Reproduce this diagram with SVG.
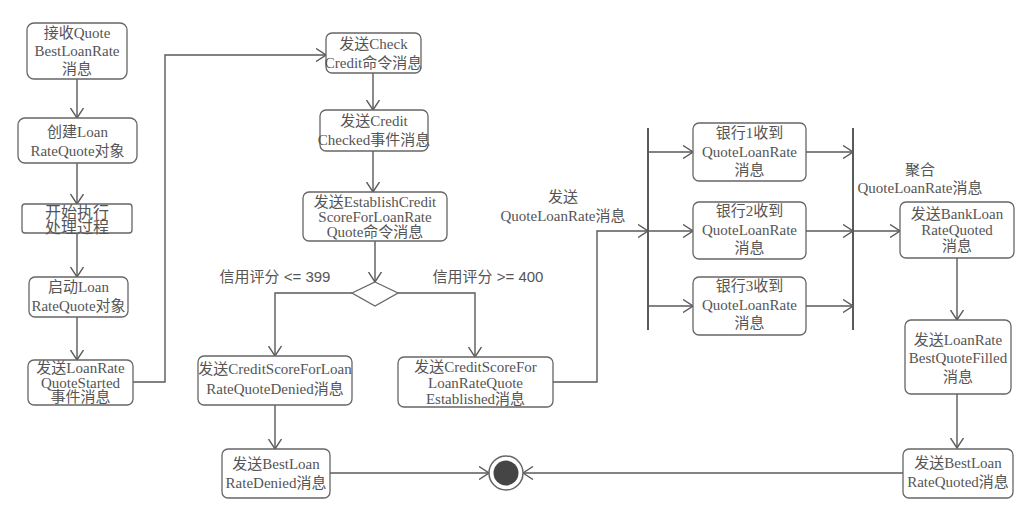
<svg xmlns="http://www.w3.org/2000/svg" width="1021" height="505" viewBox="0 0 1021 505">
  <style>
    .box { fill: #ffffff; stroke: #666666; stroke-width: 1.3; }
    .t { font-family: "Liberation Serif", "Noto Sans CJK SC", serif; font-size: 15px; fill: #555555; text-anchor: middle; dominant-baseline: central; }
    .lbl { font-family: "Liberation Sans", "Noto Sans CJK SC", sans-serif; font-size: 15px; fill: #555555; text-anchor: middle; dominant-baseline: central; }
    .edge { fill: none; stroke: #5a5a5a; stroke-width: 1.4; }
    .arr { marker-end: url(#open); }
    .bar { stroke: #5a5a5a; stroke-width: 2; }
  </style>
  <defs>
    <marker id="open" viewBox="0 0 11 14" markerWidth="11" markerHeight="14" refX="10.5" refY="7" orient="auto" markerUnits="userSpaceOnUse">
      <path d="M0.5,0.5 L10.5,7 L0.5,13.5" fill="none" stroke="#5a5a5a" stroke-width="1.4"/>
    </marker>
  </defs>

  <rect width="1021" height="505" fill="#ffffff"/>

  <!-- connectors -->
  <g id="connectors">
    <line class="edge arr" x1="77" y1="79" x2="77" y2="118"/>
    <line class="edge arr" x1="77" y1="163" x2="77" y2="204"/>
    <line class="edge arr" x1="77" y1="233" x2="77" y2="277"/>
    <line class="edge arr" x1="77" y1="317" x2="77" y2="360"/>
    <polyline class="edge arr" points="133,382 165,382 165,55 326,55"/>
    <line class="edge arr" x1="373" y1="73" x2="373" y2="110"/>
    <line class="edge arr" x1="373" y1="151" x2="373" y2="192"/>
    <line class="edge arr" x1="375" y1="241" x2="375" y2="282"/>
    <polyline class="edge arr" points="352,293 275,293 275,356"/>
    <polyline class="edge arr" points="398,293 475,293 475,357"/>
    <line class="edge arr" x1="275" y1="405" x2="275" y2="449"/>
    <line class="edge arr" x1="330" y1="473" x2="489" y2="473"/>
    <polyline class="edge arr" points="553,382 597,382 597,231 648,231"/>
    <!-- fork -->
    <line class="bar" x1="648" y1="128" x2="648" y2="330"/>
    <line class="edge arr" x1="648" y1="152" x2="693" y2="152"/>
    <line class="edge arr" x1="648" y1="231" x2="693" y2="231"/>
    <line class="edge arr" x1="648" y1="306" x2="693" y2="306"/>
    <!-- join -->
    <line class="edge arr" x1="806" y1="152" x2="853" y2="152"/>
    <line class="edge arr" x1="806" y1="231" x2="853" y2="231"/>
    <line class="edge arr" x1="806" y1="306" x2="853" y2="306"/>
    <line class="bar" x1="853" y1="128" x2="853" y2="330"/>
    <line class="edge arr" x1="853" y1="231" x2="900" y2="231"/>
    <line class="edge arr" x1="957" y1="258" x2="957" y2="320"/>
    <line class="edge arr" x1="957" y1="394" x2="957" y2="448"/>
    <line class="edge arr" x1="903" y1="473" x2="523" y2="473"/>
    <!-- edge labels -->
    <text class="lbl" x="275" y="276">信用评分 &lt;= 399</text>
    <text class="lbl" x="488" y="276">信用评分 &gt;= 400</text>
    <text class="t" x="563" y="197">发送</text>
    <text class="t" x="563" y="216">QuoteLoanRate消息</text>
    <text class="t" x="920" y="170">聚合</text>
    <text class="t" x="920" y="188">QuoteLoanRate消息</text>
  </g>

  <!-- left column -->
  <g id="receive">
    <rect class="box" x="27" y="23" width="100" height="56" rx="7"/>
    <text class="t" x="77" y="33">接收Quote</text>
    <text class="t" x="77" y="51">BestLoanRate</text>
    <text class="t" x="77" y="69">消息</text>
  </g>
  <g id="create">
    <rect class="box" x="18" y="118" width="119" height="45" rx="7"/>
    <text class="t" x="77.5" y="131.5">创建Loan</text>
    <text class="t" x="77.5" y="150.5">RateQuote对象</text>
  </g>
  <g id="begin">
    <rect class="box" x="22" y="204" width="110" height="29" rx="3"/>
    <text class="t" x="77" y="212" style="font-size:16px">开始执行</text>
    <text class="t" x="77" y="227" style="font-size:16px">处理过程</text>
  </g>
  <g id="start">
    <rect class="box" x="29" y="277" width="99" height="40" rx="6"/>
    <text class="t" x="78.5" y="287">启动Loan</text>
    <text class="t" x="78.5" y="306">RateQuote对象</text>
  </g>
  <g id="started">
    <rect class="box" x="28" y="360" width="105" height="45" rx="6"/>
    <text class="t" x="80.5" y="368">发送LoanRate</text>
    <text class="t" x="80.5" y="383">QuoteStarted</text>
    <text class="t" x="80.5" y="397">事件消息</text>
  </g>

  <!-- middle column -->
  <g id="checkCredit">
    <rect class="box" x="326" y="33" width="95" height="40" rx="6"/>
    <text class="t" x="373.5" y="44">发送Check</text>
    <text class="t" x="373.5" y="63">Credit命令消息</text>
  </g>
  <g id="creditChecked">
    <rect class="box" x="320" y="110" width="108" height="41" rx="6"/>
    <text class="t" x="374" y="121">发送Credit</text>
    <text class="t" x="374" y="140">Checked事件消息</text>
  </g>
  <g id="establish">
    <rect class="box" x="303" y="192" width="144" height="49" rx="6"/>
    <text class="t" x="375" y="202">发送EstablishCredit</text>
    <text class="t" x="375" y="217">ScoreForLoanRate</text>
    <text class="t" x="375" y="232">Quote命令消息</text>
  </g>
  <g id="decision">
    <polygon points="375,282 398,293 375,306 352,293" fill="#ffffff" stroke="#666666" stroke-width="1.3"/>
  </g>
  <g id="denied">
    <rect class="box" x="198" y="356" width="154" height="49" rx="6"/>
    <text class="t" x="275" y="369">发送CreditScoreForLoan</text>
    <text class="t" x="275" y="389">RateQuoteDenied消息</text>
  </g>
  <g id="established">
    <rect class="box" x="398" y="357" width="155" height="50" rx="6"/>
    <text class="t" x="475.5" y="367">发送CreditScoreFor</text>
    <text class="t" x="475.5" y="383">LoanRateQuote</text>
    <text class="t" x="475.5" y="399">Established消息</text>
  </g>
  <g id="bestDenied">
    <rect class="box" x="222" y="449" width="108" height="49" rx="6"/>
    <text class="t" x="276" y="464">发送BestLoan</text>
    <text class="t" x="276" y="483">RateDenied消息</text>
  </g>
  <g id="final">
    <circle cx="506" cy="473" r="17" fill="#ffffff" stroke="#666666" stroke-width="1.5"/>
    <circle cx="506" cy="473" r="12.5" fill="#454545"/>
  </g>

  <!-- banks -->
  <g id="bank1">
    <rect class="box" x="693" y="123" width="113" height="58" rx="6"/>
    <text class="t" x="749.5" y="133">银行1收到</text>
    <text class="t" x="749.5" y="152">QuoteLoanRate</text>
    <text class="t" x="749.5" y="170">消息</text>
  </g>
  <g id="bank2">
    <rect class="box" x="693" y="202" width="113" height="57" rx="6"/>
    <text class="t" x="749.5" y="211">银行2收到</text>
    <text class="t" x="749.5" y="230">QuoteLoanRate</text>
    <text class="t" x="749.5" y="248">消息</text>
  </g>
  <g id="bank3">
    <rect class="box" x="693" y="277" width="113" height="58" rx="6"/>
    <text class="t" x="749.5" y="286">银行3收到</text>
    <text class="t" x="749.5" y="305">QuoteLoanRate</text>
    <text class="t" x="749.5" y="323">消息</text>
  </g>

  <!-- right column -->
  <g id="bankQuoted">
    <rect class="box" x="900" y="202" width="114" height="56" rx="6"/>
    <text class="t" x="957" y="214">发送BankLoan</text>
    <text class="t" x="957" y="230">RateQuoted</text>
    <text class="t" x="957" y="246">消息</text>
  </g>
  <g id="bestFilled">
    <rect class="box" x="905" y="320" width="106" height="74" rx="6"/>
    <text class="t" x="958" y="340">发送LoanRate</text>
    <text class="t" x="958" y="358">BestQuoteFilled</text>
    <text class="t" x="958" y="377">消息</text>
  </g>
  <g id="bestQuoted">
    <rect class="box" x="903" y="449" width="110" height="49" rx="6"/>
    <text class="t" x="958" y="463">发送BestLoan</text>
    <text class="t" x="958" y="482">RateQuoted消息</text>
  </g>
</svg>
